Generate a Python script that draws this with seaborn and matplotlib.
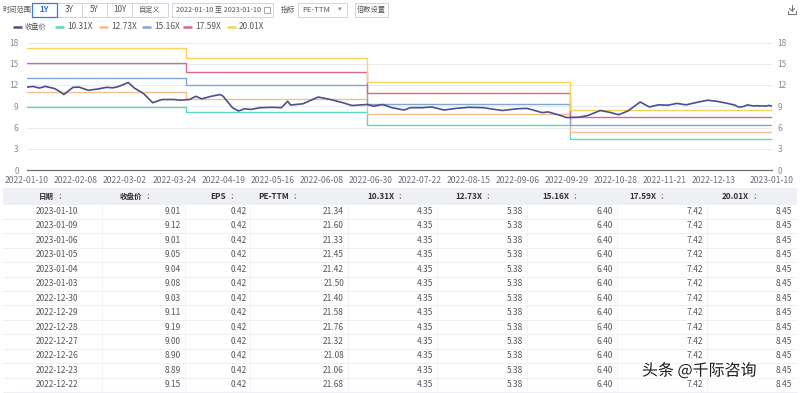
import matplotlib
matplotlib.use('Agg')
import matplotlib.pyplot as plt
import matplotlib.patheffects as pe
import seaborn as sns
import pandas as pd

# price line: trading-day index -> close
price_day = [0, 2, 4, 6, 9, 11, 12, 15, 17, 20, 23, 26, 28, 30, 33, 35, 38, 41, 44, 48,
             50, 53, 55, 57, 60, 63, 64, 67, 69, 71, 73, 76, 80, 83, 85, 86, 90, 95, 99, 103,
             106, 111, 113, 116, 119, 123, 125, 129, 132, 136, 140, 144, 149, 151, 155, 160, 163, 164, 168, 170,
             174, 176, 180, 183, 187, 190, 193, 196, 200, 203, 206, 209, 212, 215, 219, 222, 225, 228]
price = [11.7, 11.8, 11.57, 11.8, 11.5, 11.0, 10.65, 11.67, 11.7, 11.25, 11.43, 11.67, 11.6, 11.8, 12.36, 11.57, 10.8, 9.5, 9.95, 9.95,
         9.86, 9.95, 10.4, 10.05, 10.4, 10.65, 10.4, 8.8, 8.33, 8.65, 8.55, 8.8, 8.85, 8.8, 9.7, 9.17, 9.35, 10.3, 9.95, 9.5,
         9.1, 9.25, 9.0, 9.25, 8.8, 8.47, 8.8, 8.8, 8.9, 8.47, 8.7, 8.85, 8.8, 8.65, 8.4, 8.65, 8.7, 8.6, 8.1, 8.2,
         7.7, 7.4, 7.45, 7.7, 8.4, 8.15, 7.8, 8.33, 9.6, 8.9, 9.2, 9.15, 9.4, 9.2, 9.6, 9.85, 9.7, 9.45]

# table rows (newest first)
table_dates = ['2023-01-10', '2023-01-09', '2023-01-06', '2023-01-05', '2023-01-04', '2023-01-03', '2022-12-30',
               '2022-12-29', '2022-12-28', '2022-12-27', '2022-12-26', '2022-12-23', '2022-12-22']
table_close = [9.01, 9.12, 9.01, 9.05, 9.04, 9.08, 9.03, 9.11, 9.19, 9.00, 8.90, 8.89, 9.15]
table_eps = [0.42] * 13
table_pe = [21.34, 21.60, 21.33, 21.45, 21.42, 21.50, 21.40, 21.58, 21.76, 21.32, 21.08, 21.06, 21.68]
tail_day = list(range(243, 230, -1))

# PE band levels per report period
seg_start = [0, 52, 111, 177, 243]
band_names = ['10.31X', '12.73X', '15.16X', '17.59X', '20.01X']
band_1031 = [8.87, 8.14, 6.38, 4.35]
band_1273 = [10.95, 10.06, 7.88, 5.38]
band_1516 = [13.04, 11.98, 9.38, 6.40]
band_1759 = [15.13, 13.90, 10.89, 7.42]
band_2001 = [17.21, 15.81, 12.39, 8.45]
band_colors = ['#5fd6c2', '#f5bf8c', '#7ea4d8', '#d9688f', '#f6d45e']
price_color = '#4a4f8f'

xtick_day = [0, 16, 32, 48, 64, 80, 96, 112, 128, 144, 160, 176, 192, 208, 224, 243]
xtick_lab = ['2022-01-10', '2022-02-08', '2022-03-02', '2022-03-24', '2022-04-19', '2022-05-16',
             '2022-06-08', '2022-06-30', '2022-07-22', '2022-08-15', '2022-09-06', '2022-09-29',
             '2022-10-28', '2022-11-21', '2022-12-13', '2023-01-10']

sns.set_theme(style='white')
plt.rcParams['font.family'] = ['Noto Sans CJK SC', 'DejaVu Sans']

fig = plt.figure(figsize=(8, 3.93), dpi=100)
fig.patch.set_facecolor('white')

# overlay in pixel coords for toolbar / legend / table
ui = fig.add_axes([0, 0, 1, 1], zorder=0)
ui.set_xlim(0, 800)
ui.set_ylim(393, 0)
ui.axis('off')

TXT = '#555555'
CJK = 5.2

# toolbar
ui.text(2, 9.5, '时间范围', fontsize=CJK, color=TXT, va='center')
btns = [('1Y', 32, 57), ('3Y', 57, 82), ('5Y', 82, 107), ('10Y', 107, 132), ('自定义', 132, 168)]
for lab, x0, x1 in btns:
    ui.add_patch(plt.Rectangle((x0, 2.5), x1 - x0, 14, fill=False, ec='#d0d4dc', lw=0.7))
for lab, x0, x1 in btns:
    sel = lab == '1Y'
    if sel:
        ui.add_patch(plt.Rectangle((x0, 2.5), x1 - x0, 14, fill=False, ec='#3a78e0', lw=0.9, zorder=3))
    ui.text((x0 + x1) / 2, 9.5, lab, fontsize=CJK if lab == '自定义' else 5.8, va='center', ha='center',
            color='#2f6fd6' if sel else TXT, fontweight='bold' if sel else 'normal')
ui.add_patch(plt.Rectangle((172, 2.5), 101, 14, fill=False, ec='#d0d4dc', lw=0.7))
ui.text(176, 9.5, '2022-01-10 至 2023-01-10', fontsize=5.2, color=TXT, va='center')
ui.add_patch(plt.Rectangle((264, 6.5), 5.5, 6, fill=False, ec='#999999', lw=0.6))
ui.text(281, 9.5, '指标', fontsize=CJK, color=TXT, va='center')
ui.add_patch(plt.Rectangle((298, 2.5), 49, 14, fill=False, ec='#d0d4dc', lw=0.7))
ui.text(302, 9.5, 'PE-TTM', fontsize=5.6, color=TXT, va='center')
ui.text(340, 9.5, '▾', fontsize=5, color='#888888', va='center', ha='center')
ui.add_patch(plt.Rectangle((355, 2.5), 33, 14, fill=False, ec='#d0d4dc', lw=0.7))
ui.text(371.5, 9.5, '倍数设置', fontsize=CJK, color=TXT, va='center', ha='center')
# download icon
ui.plot([792, 792], [5, 11], color='#777777', lw=0.8)
ui.plot([789.5, 792, 794.5], [8.5, 11, 8.5], color='#777777', lw=0.8)
ui.plot([788, 788, 796, 796], [11, 14, 14, 11], color='#777777', lw=0.8)

# legend
leg_items = [('收盘价', price_color, 13)] + list(zip(band_names, band_colors, [55, 99, 142, 183, 227]))
for name, col, x0 in leg_items:
    ui.plot([x0, x0 + 9], [26.5, 26.5], color=col, lw=1.8, solid_capstyle='butt')
    ui.text(x0 + 12, 26.5, name, fontsize=CJK if name == '收盘价' else 6.0, color=TXT, va='center')

# chart
ax = fig.add_axes([27 / 800, 1 - 170 / 393, 745 / 800, (170 - 42.5) / 393], zorder=2)
ax.patch.set_alpha(0)

band_rows = []
for name, levels in zip(band_names, [band_1031, band_1273, band_1516, band_1759, band_2001]):
    for d, v in zip(seg_start, levels + [levels[-1]]):
        band_rows.append({'day': d, 'value': v, 'band': name})
band_df = pd.DataFrame(band_rows)
sns.lineplot(data=band_df, x='day', y='value', hue='band', palette=band_colors, ax=ax,
             estimator=None, drawstyle='steps-post', linewidth=1.0, legend=False)

price_df = pd.DataFrame({'day': price_day + tail_day[::-1], 'close': price + table_close[::-1]})
sns.lineplot(data=price_df, x='day', y='close', color=price_color, ax=ax,
             estimator=None, linewidth=1.2)

ax.set_xlim(0, 243)
ax.set_ylim(0, 18)
ax.set_yticks(range(0, 19, 3))
ax.yaxis.grid(True, color='#e9ebf0', lw=0.7)
ax.set_xticks(xtick_day)
ax.set_xticklabels(xtick_lab)
ax.tick_params(axis='x', labelsize=6.2, colors='#6e7079', length=0, pad=4)
ax.tick_params(axis='y', labelsize=6.0, colors='#8a8d96', length=0, pad=6)
ax.set(xlabel='', ylabel='')
for s in ['top', 'right', 'left']:
    ax.spines[s].set_visible(False)
ax.spines['bottom'].set_color('#6e7079')
ax.spines['bottom'].set_linewidth(0.9)

ax2 = ax.twinx()
ax2.set_ylim(0, 18)
ax2.set_yticks(range(0, 19, 3))
ax2.tick_params(axis='y', labelsize=6.0, colors='#8a8d96', length=0, pad=4)
for s in ax2.spines.values():
    s.set_visible(False)

# table
col_sep = [102, 185, 250, 348, 437, 527, 617, 707]
head_x = [55, 143, 227, 290, 395, 483, 570, 657, 750]
head_lab = ['日期', '收盘价', 'EPS', 'PE-TTM'] + band_names
ui.add_patch(plt.Rectangle((3, 188), 794, 17, color='#eef0f4', lw=0, zorder=1))
for x, lab in zip(head_x, head_lab):
    cjk = lab in ('日期', '收盘价')
    ui.text(x - 1, 196.5, lab, fontsize=5.4 if cjk else 5.9, color='#333333', fontweight='bold',
            va='center', ha='right', zorder=3)
    ui.text(x + 5, 196.5, ':', fontsize=6, color='#777777', fontweight='bold',
            va='center', ha='center', zorder=3)

row_h = 14.45
y0 = 211.5
band_cols = [[4.35] * 13, [5.38] * 13, [6.40] * 13, [7.42] * 13, [8.45] * 13]
right_x = [181, 247, 344, 433, 523, 613, 703, 792]
for i, d in enumerate(table_dates):
    y = y0 + i * row_h
    ui.plot([3, 797], [y + row_h / 2, y + row_h / 2], color='#eceef2', lw=0.6, zorder=1)
    ui.text(57, y, d, fontsize=6.0, color=TXT, va='center', ha='center', zorder=3)
    vals = [table_close[i], table_eps[i], table_pe[i]] + [c[i] for c in band_cols]
    for x, v in zip(right_x, vals):
        ui.text(x, y, f'{v:.2f}', fontsize=6.0, color=TXT, va='center', ha='right', zorder=3)
for x in col_sep:
    ui.plot([x, x], [188, 393], color='#f0f1f4', lw=0.6, zorder=1)

# watermark (sits over the table, as in the screenshot)
ui.text(642, 371, '头条 @千际咨询', fontsize=11.5, color='#1a1a1a', va='center', zorder=5,
        path_effects=[pe.withStroke(linewidth=2.5, foreground='white')])

plt.savefig('out.png', dpi=100, facecolor='white')
